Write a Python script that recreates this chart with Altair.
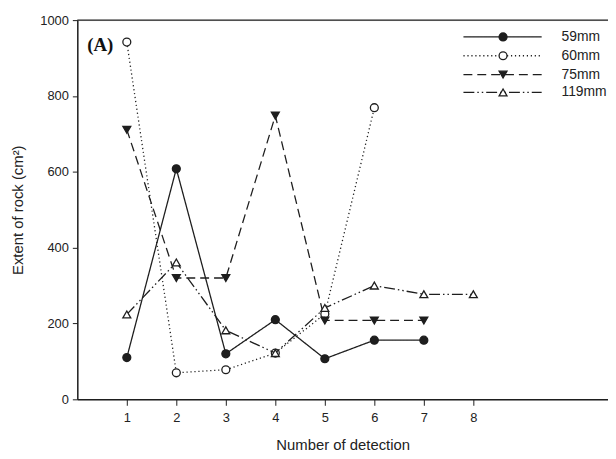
import altair as alt
import pandas as pd

# ---- data ----
series_names = ["59mm", "60mm", "75mm", "119mm"]
detections_59 = [1, 2, 3, 4, 5, 6, 7]
values_59 = [110, 608, 120, 210, 107, 156, 156]
detections_60 = [1, 2, 3, 4, 5, 6]
values_60 = [942, 70, 78, 122, 225, 769]
detections_75 = [1, 2, 3, 4, 5, 6, 7]
values_75 = [711, 320, 320, 748, 208, 208, 208]
detections_119 = [1, 2, 3, 4, 5, 6, 7, 8]
values_119 = [224, 361, 182, 122, 241, 300, 277, 277]
x_ticks = [1, 2, 3, 4, 5, 6, 7, 8]
y_ticks = [0, 200, 400, 600, 800, 1000]

# ---- styles ----
W, H = 536, 383
INK = "#1e1e1e"
MS = 64
styles = {
    "59mm": dict(dash=[1, 0], shape="circle", filled=True),
    "60mm": dict(dash=[1.2, 2.8], shape="circle", filled=False),
    "75mm": dict(dash=[9, 5], shape="triangle-down", filled=True),
    "119mm": dict(dash=[11, 3, 1.5, 3, 1.5, 3], shape="triangle-up", filled=False),
}
series_data = {
    "59mm": (detections_59, values_59),
    "60mm": (detections_60, values_60),
    "75mm": (detections_75, values_75),
    "119mm": (detections_119, values_119),
}

xscale = alt.Scale(domain=[0, W / 50.0], nice=False, zero=False)
yscale = alt.Scale(domain=[0, 1000], nice=False)

x_axis = alt.Axis(values=x_ticks, title="Number of detection", grid=False,
                  labelFont="Liberation Sans", labelFontSize=13, labelColor="#222",
                  titleFont="Liberation Sans", titleFontSize=15, titleColor="#222",
                  titleFontWeight="normal", titlePadding=14, labelPadding=6,
                  tickSize=6, tickColor=INK, domainColor=INK, domainWidth=1.5,
                  labelFlush=False, format="d")
y_axis = alt.Axis(values=y_ticks, title="Extent of rock (cm²)", grid=False,
                  labelFont="Liberation Sans", labelFontSize=13, labelColor="#222",
                  titleFont="Liberation Sans", titleFontSize=15, titleColor="#222",
                  titleFontWeight="normal", titlePadding=14, labelPadding=4,
                  tickSize=5, tickColor=INK, domainColor=INK, domainWidth=1.5,
                  format="d")


def enc_x():
    return alt.X("detection:Q", scale=xscale, axis=x_axis)


def enc_y():
    return alt.Y("extent:Q", scale=yscale, axis=y_axis)


layers = []
for name in series_names:
    xs, ys = series_data[name]
    df = pd.DataFrame({"detection": xs, "extent": ys, "series": name})
    st = styles[name]
    line = alt.Chart(df).mark_line(color=INK, strokeWidth=1.3, strokeDash=st["dash"]).encode(
        x=enc_x(), y=enc_y())
    pts = alt.Chart(df).mark_point(
        shape=st["shape"], size=MS, filled=True,
        fill=INK if st["filled"] else "white", stroke=INK, strokeWidth=1.3, opacity=1
    ).encode(x=enc_x(), y=enc_y())
    layers += [line, pts]

# top frame line
top_line = alt.Chart(pd.DataFrame({"a": [0]})).mark_rule(color=INK, strokeWidth=1.5).encode(
    x=alt.value(0), x2=alt.value(W), y=alt.value(0))
layers.append(top_line)

# panel label
label = alt.Chart(pd.DataFrame({"t": ["(A)"]})).mark_text(
    font="Liberation Serif", fontSize=19, fontWeight="bold", align="left",
    baseline="alphabetic", color="#111").encode(text="t:N", x=alt.value(10), y=alt.value(31))
layers.append(label)

# manual legend
row_y = [17, 36, 55, 73]
for name, ry in zip(series_names, row_y):
    st = styles[name]
    d = pd.DataFrame({"s": [name]})
    layers.append(alt.Chart(d).mark_rule(color=INK, strokeWidth=1.3, strokeDash=st["dash"]).encode(
        x=alt.value(390), x2=alt.value(469), y=alt.value(ry)))
    layers.append(alt.Chart(d).mark_point(
        shape=st["shape"], size=MS, filled=True,
        fill=INK if st["filled"] else "white", stroke=INK, strokeWidth=1.3, opacity=1
    ).encode(x=alt.value(430), y=alt.value(ry)))
    layers.append(alt.Chart(d).mark_text(
        font="Liberation Sans", fontSize=14, align="left", baseline="middle", color="#222"
    ).encode(text="s:N", x=alt.value(489), y=alt.value(ry)))

chart = alt.layer(*layers).properties(
    width=W, height=H,
    autosize=alt.AutoSizeParams(type="none"),
    padding={"left": 70, "top": 10, "right": 0, "bottom": 56},
).configure_view(strokeWidth=0).configure(background="white")

chart.save("out.html", embed_options={"renderer": "svg", "actions": False})
